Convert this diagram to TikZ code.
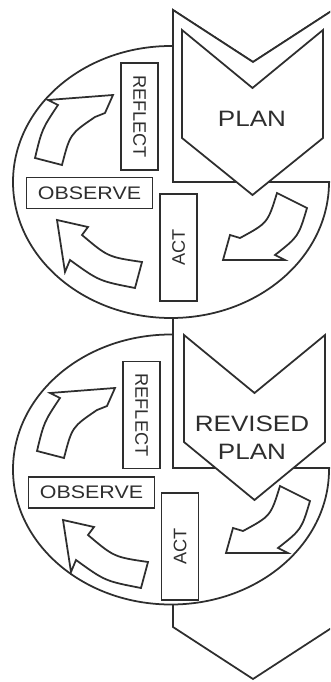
\documentclass[tikz,border=0pt]{standalone}
\usepackage{fontspec}
\setmainfont{Liberation Sans}
\usepackage{tikz}
\definecolor{trazo}{HTML}{2E2E2E}

\begin{document}
\begin{tikzpicture}[x=0.03cm, y=-0.03cm,
      borde/.style={draw=trazo, line width=1.5pt},
      fondo/.style={borde, fill=white},
      caja/.style={rectangle, draw=trazo, line width=1.4pt, fill=white, inner sep=0pt,
                   font=\fontsize{15.5}{18}\selectfont, text=trazo},
      cajav/.style={caja, minimum width=3.2cm, minimum height=1.1cm},
      cajah/.style={caja, xscale=1.18, minimum width=3.2cm, minimum height=0.92cm},
      plan/.style={font=\fontsize{19}{24}\selectfont, text=trazo, align=center, xscale=1.17},
      giroA/.pic={\draw[fondo] (35,158) -- (62,165) .. controls (70,134) .. (95,117) -- (105,113)
                    -- (113,95) -- (48,100) -- (58,105) .. controls (42,129) .. (35,158) -- cycle;},
      giroB/.pic={\draw[fondo] (57,220) -- (88,227) -- (82,235) .. controls (108,257) .. (142,262)
                    -- (135,288) .. controls (99,281) .. (70,260) -- (65,272) -- cycle;},
      giroC/.pic={\draw[fondo] (277,193) -- (307,208) .. controls (298.5,236.5) .. (275,255) -- (285,260)
                    -- (223,260) -- (230,235) -- (240,238) .. controls (267.7,223) .. (277,193) -- cycle;}]

    \useasboundingbox (0,0) rectangle (330,682);
    \clip (0,0) rectangle (330,682);

    % flecha larga de fondo
    \draw[fondo] (173,10) -- (253,62) -- (333,10) -- (333,627) -- (253,679) -- (173,627) -- cycle;

    % segundo ciclo
    \draw[fondo] (171,469.5) ellipse [x radius=4.74cm, y radius=4.05cm];
    \fill[white] (173,182) rectangle (333,468);
    \draw[borde] (173,182) -- (173,468) -- (333,468);

    % primer ciclo
    \draw[fondo] (171,182) ellipse [x radius=4.74cm, y radius=4.08cm];
    \draw[fondo] (173,10) -- (253,62) -- (333,10) -- (333,182) -- (173,182) -- cycle;

    \pic at (0,0) {giroA};
    \pic at (0,0) {giroB};
    \pic at (0,0) {giroC};
    \pic at (2,293) {giroA};
    \pic at (6,300) {giroB};
    \pic at (3,293) {giroC};

    \node[cajav, rotate=-90] (reflexion1) at (139.5,116.5) {REFLECT};
    \node[cajah] (observa1) at (89.5,193) {OBSERVE};
    \node[cajav, rotate=90] (accion1) at (178.5,247.5) {ACT};
    \node[cajav, rotate=-90] (reflexion2) at (141.5,415) {REFLECT};
    \node[cajah] (observa2) at (91.5,492.5) {OBSERVE};
    \node[cajav, rotate=90] (accion2) at (180,546.5) {ACT};

    \draw[fondo] (182,30) -- (252.5,88) -- (323,30) -- (323,138) -- (252.5,195) -- (182,138) -- cycle;
    \node[plan] (plan) at (252,119) {PLAN};
    \draw[fondo] (184,335) -- (254.5,393) -- (325,335) -- (325,442) -- (254.5,500) -- (184,442) -- cycle;
    \node[plan] (planrev) at (252,438) {REVISED\\PLAN};
  \end{tikzpicture}
\end{document}
